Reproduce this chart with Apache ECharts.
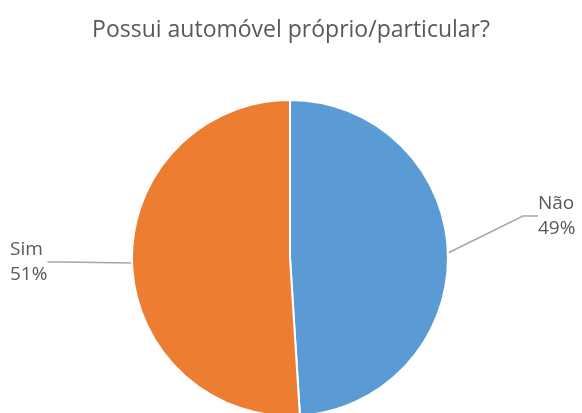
<!DOCTYPE html>
<html>
<head>
<meta charset="utf-8">
<script src="https://cdn.jsdelivr.net/npm/echarts@6/dist/echarts.min.js"></script>
<style>
  html, body { margin: 0; padding: 0; background: #fff; }
  #chart { width: 582px; height: 413px; }
</style>
</head>
<body>
<div id="chart"></div>
<script>
// dados do gráfico
const categorias = ['Não', 'Sim'];
const valores = [49, 51];
const cores = ['#5B9BD5', '#ED7D31'];
const titulo = 'Possui automóvel próprio/particular?';

// posição dos rótulos (texto), como no original
const posRotulos = [
  { x: 538, y: 216 },
  { x: 10, y: 262 }
];

const myChart = echarts.init(document.getElementById('chart'));

const option = {
  animation: false,
  color: cores,
  title: {
    text: titulo,
    left: 'center',
    top: 14,
    textStyle: {
      color: '#595959',
      fontSize: 23,
      fontWeight: 'normal',
      fontFamily: 'Open Sans'
    }
  },
  series: [
    {
      type: 'pie',
      center: [290, 258],
      radius: 158,
      startAngle: 90,
      clockwise: true,
      data: categorias.map((nome, i) => ({ name: nome, value: valores[i] })),
      itemStyle: {
        borderColor: '#fff',
        borderWidth: 2
      },
      label: {
        formatter: '{b}\n{d}%',
        color: '#595959',
        fontSize: 19,
        lineHeight: 25,
        fontFamily: 'Open Sans'
      },
      labelLine: {
        show: true,
        length: 20,
        length2: 15,
        lineStyle: { color: '#A6A6A6', width: 1.5 }
      },
      labelLayout: function (params) {
        const p = posRotulos[params.dataIndex];
        return { x: p.x, y: p.y, align: 'left', verticalAlign: 'middle' };
      }
    }
  ]
};

myChart.setOption(option);
</script>
</body>
</html>
